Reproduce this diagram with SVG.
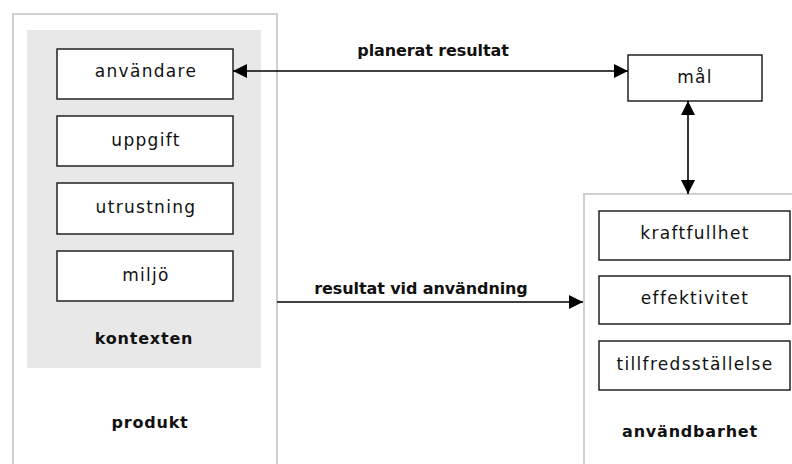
<svg xmlns="http://www.w3.org/2000/svg" width="792" height="464" viewBox="0 0 792 464">
<defs>
<marker id="ah" viewBox="0 0 14 14" refX="14" refY="7" markerWidth="14" markerHeight="14" markerUnits="userSpaceOnUse" orient="auto-start-reverse">
<path d="M0,0 L14,7 L0,14 Z" fill="#000"/>
</marker>
<style>
.outer{fill:#fff;stroke:#cfcfcf;stroke-width:2}
.ctx{fill:#e8e8e8;stroke:none}
.box{fill:#fff;stroke:#222;stroke-width:1.5}
.t{font-family:"DejaVu Sans",sans-serif;font-size:17px;letter-spacing:1.3px;fill:#111;text-anchor:middle}
.b{font-family:"DejaVu Sans",sans-serif;font-size:16px;font-weight:bold;letter-spacing:0.8px;fill:#111;text-anchor:middle}
.lbl{letter-spacing:-0.1px}
.c{stroke:#000;stroke-width:1.6;fill:none}
</style>
</defs>
<rect width="792" height="464" fill="#fff"/>
<g id="produkt">
<rect class="outer" x="13" y="14" width="264" height="460"/>
<text class="b" x="150" y="428">produkt</text>
</g>
<g id="kontexten">
<rect class="ctx" x="27" y="30" width="234" height="338"/>
<text class="b" x="144" y="344">kontexten</text>
</g>
<g id="anvandare">
<rect class="box" x="57" y="49" width="176" height="50"/>
<text class="t" x="146" y="77">användare</text>
</g>
<g id="uppgift">
<rect class="box" x="57" y="116" width="176" height="50"/>
<text class="t" x="146" y="146">uppgift</text>
</g>
<g id="utrustning">
<rect class="box" x="57" y="183" width="176" height="51"/>
<text class="t" x="146" y="213">utrustning</text>
</g>
<g id="miljo">
<rect class="box" x="57" y="251" width="176" height="50"/>
<text class="t" x="146" y="281">miljö</text>
</g>
<g id="mal">
<rect class="box" x="628" y="55" width="134" height="46"/>
<text class="t" x="695" y="83">mål</text>
</g>
<g id="anvandbarhet">
<rect class="outer" x="584" y="194" width="230" height="290"/>
<text class="b" x="690" y="437">användbarhet</text>
</g>
<g id="kraftfullhet">
<rect class="box" x="599" y="211" width="191" height="49"/>
<text class="t" x="695" y="239">kraftfullhet</text>
</g>
<g id="effektivitet">
<rect class="box" x="599" y="276" width="191" height="48"/>
<text class="t" x="695" y="304">effektivitet</text>
</g>
<g id="tillfredsstallelse">
<rect class="box" x="599" y="341" width="191" height="49"/>
<text class="t" x="695" y="370">tillfredsställelse</text>
</g>
<g id="connectors">
<line class="c" x1="233" y1="71" x2="628" y2="71" marker-start="url(#ah)" marker-end="url(#ah)"/>
<text class="b lbl" x="433" y="56">planerat resultat</text>
<line class="c" x1="688" y1="101" x2="688" y2="194" marker-start="url(#ah)" marker-end="url(#ah)"/>
<line class="c" x1="277" y1="302" x2="583" y2="302" marker-end="url(#ah)"/>
<text class="b lbl" x="421" y="294">resultat vid användning</text>
</g>
</svg>
